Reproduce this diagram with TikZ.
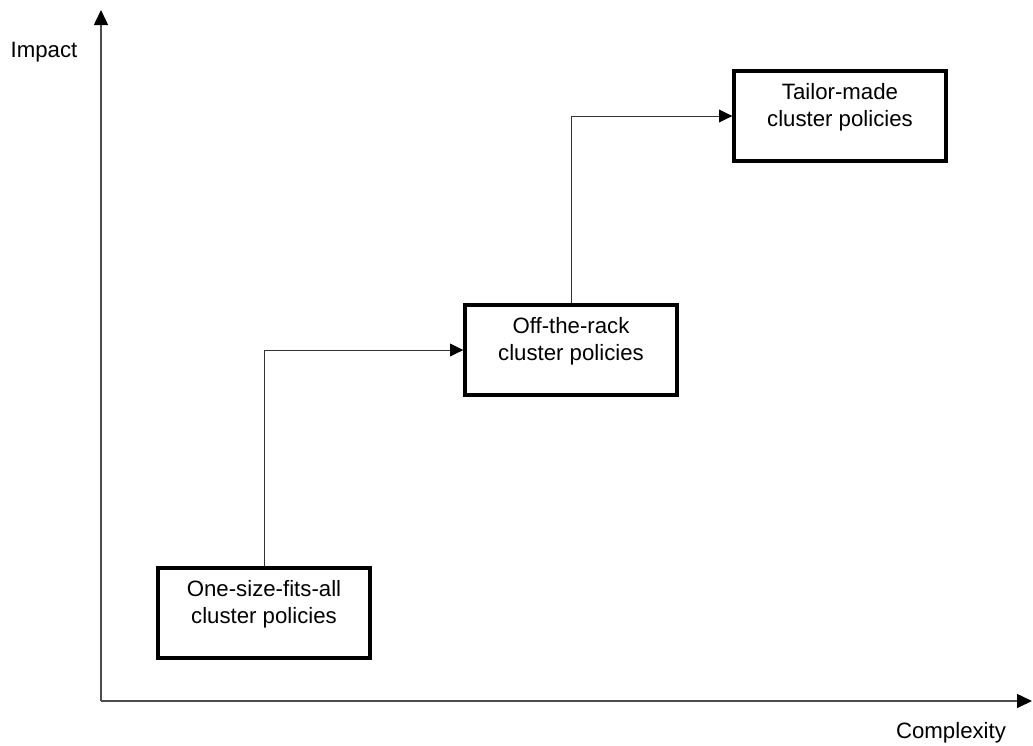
\documentclass[tikz,border=0pt]{standalone}
\usepackage{fontspec}
\setmainfont{Liberation Sans}
\usetikzlibrary{arrows.meta}

\begin{document}
\begin{tikzpicture}[x=0.025cm, y=-0.025cm,
    axis/.style={draw=black!70, line width=1.1pt, -{Triangle[length=0.375cm, width=0.35cm, black]}},
    conn/.style={draw=black!80, line width=0.6pt, -{Triangle[length=0.33cm, width=0.32cm, black]}},
    box/.style={draw, rectangle, line width=2.4pt, minimum width=5.3cm, minimum height=2.25cm, inner sep=0pt},
    boxtext/.style={font=\fontsize{15.8}{19.3}\selectfont, align=center, yshift=0.225cm},
    axlabel/.style={font=\fontsize{15.8}{19.3}\selectfont}]

\useasboundingbox (0,0) rectangle (1033,745);

% axes
\coordinate (origin) at (101,701);
\coordinate (ytop) at (101,10);
\coordinate (xend) at (1032,701);
\draw[axis] (origin) -- (ytop);
\draw[axis] (origin) -- (xend);
\node[axlabel] (impact) at (44,52) {Impact};
\node[axlabel] (complexity) at (951,733) {Complexity};

% Step 1: one size for everyone
\node[box, label={[boxtext]center:{One-size-fits-all\\cluster policies}}] (one) at (264,613) {};

% Step 2: ready-made
\node[box, label={[boxtext]center:{Off-the-rack\\cluster policies}}] (two) at (571,350) {};
\draw[conn] (one.north) |- (two.west);

% Step 3: made to measure
\node[box, label={[boxtext]center:{Tailor-made\\cluster policies}}] (three) at (840,116) {};
\draw[conn] (two.north) |- (three.west);

\end{tikzpicture}
\end{document}
